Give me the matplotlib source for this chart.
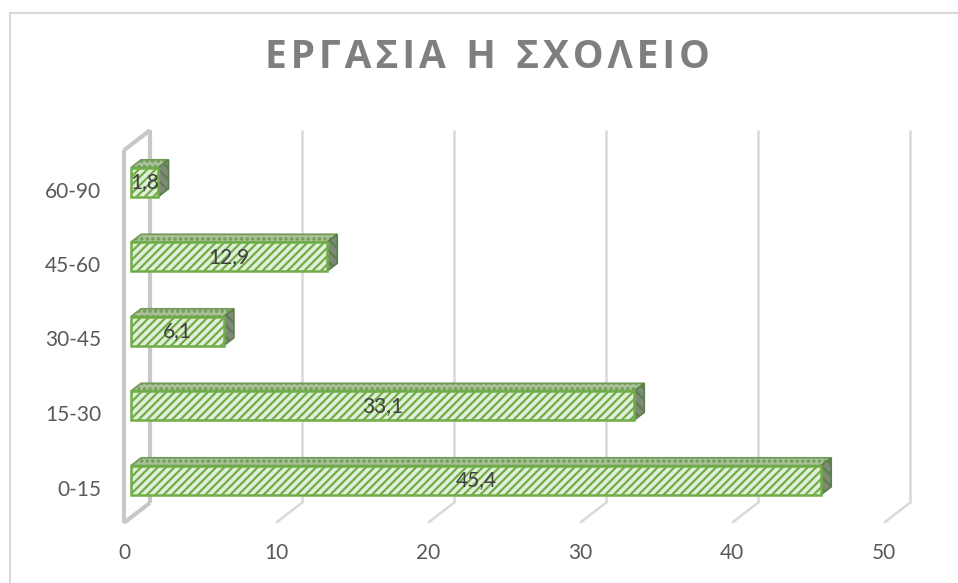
import matplotlib
matplotlib.use("Agg")
import matplotlib.pyplot as plt
from matplotlib.patches import Polygon
from matplotlib.lines import Line2D

# data
categories = ["0-15", "15-30", "30-45", "45-60", "60-90"]
values = [45.4, 33.1, 6.1, 12.9, 1.8]
value_labels = ["45,4", "33,1", "6,1", "12,9", "1,8"]
x_ticks = [0, 10, 20, 30, 40, 50]
title = "ΕΡΓΑΣΙΑ Η ΣΧΟΛΕΙΟ"

W, H = 958, 583
plt.rcParams["hatch.linewidth"] = 1.6
label_font = ["Lato", "Open Sans", "DejaVu Sans"]

fig = plt.figure(figsize=(W / 100, H / 100), dpi=100)
# front plane: x=0 at px 124, x=50 at px 884; y from floor (523) to wall top (150)
ax = fig.add_axes([124 / W, (H - 522.75) / H, 760 / W, 372.5 / H])
ax.set_xlim(0, 50)
ax.set_ylim(-0.5, 4.5)
ax.axis("off")

# depth offset (full depth) in data units
px_x = 760 / 50
px_y = 372.5 / 5
DX, DY = 26 / px_x, 20 / px_y


def P(v, c, d):
    return (v + d * DX, c + d * DY)


def seg(a, b, col, lw):
    ax.add_line(Line2D(*zip(a, b), color=col, lw=lw, zorder=1, clip_on=False,
                       solid_capstyle="butt"))


# back wall grid + floor diagonals
for t in x_ticks:
    col, lw = ("#c8c8c8", 3.0) if t == 0 else ("#d9d9d9", 1.8)
    seg(P(t, -0.5, 1), P(t, 4.5, 1), col, lw)
    seg(P(t, -0.5, 0), P(t, -0.5, 1), col, lw)
# left wall front edge + top
seg(P(0, -0.5, 0), P(0, 4.5, 0), "#c8c8c8", 3.0)
seg(P(0, 4.5, 0), P(0, 4.5, 1), "#c8c8c8", 3.0)

# bars
d0, d1 = 0.27, 0.66
h = 0.39
edge = "#70ad47"
for i, (v, lab) in enumerate(zip(values, value_labels)):
    c = i
    lo, hi = c - h / 2, c + h / 2
    front = [P(0, lo, d0), P(v, lo, d0), P(v, hi, d0), P(0, hi, d0)]
    top = [P(0, hi, d0), P(v, hi, d0), P(v, hi, d1), P(0, hi, d1)]
    side = [P(v, lo, d0), P(v, lo, d1), P(v, hi, d1), P(v, hi, d0)]
    ax.add_patch(Polygon(top, closed=True, facecolor="#a9c197", edgecolor="#6f9a55",
                         hatch="...", lw=1.2, zorder=3, clip_on=False))
    ax.add_patch(Polygon(side, closed=True, facecolor="#7d8a78", edgecolor="#5e7d4c",
                         hatch="\\\\\\", lw=1.2, zorder=3, clip_on=False))
    ax.add_patch(Polygon(front, closed=True, facecolor="#e2efda", edgecolor=edge,
                         hatch="////", lw=1.8, zorder=4, clip_on=False))
    cx, cy = P(v / 2, c, d0)
    ax.text(cx, cy, lab, ha="center", va="center", fontsize=15, color="#404040",
            family=label_font, zorder=5)

# category labels
for i, cat in enumerate(categories):
    ax.annotate(cat, (0, i), xytext=(-23, -4), textcoords="offset pixels",
                ha="right", va="center", fontsize=15, color="#595959", family=label_font)

# value axis labels
for t in x_ticks:
    ax.annotate(str(t), (t, -0.5), xytext=(0, -30), textcoords="offset pixels",
                ha="center", va="center", fontsize=15, color="#595959", family=label_font)

# title with letter spacing
spaced = "\u200a".join(title).replace("\u200a \u200a", "  ")
fig.text(487 / W, 1 - 58 / H, spaced, ha="center", va="center", fontsize=28,
         fontweight="bold", color="#7f7f7f", family=["Open Sans", "DejaVu Sans"])

# chart border
fig.add_artist(Line2D([10 / W, 10 / W], [0, 1 - 13 / H], color="#d9d9d9", lw=1.5))
fig.add_artist(Line2D([10 / W, 1], [1 - 13 / H, 1 - 13 / H], color="#d9d9d9", lw=1.5))

fig.savefig("out.png", dpi=100, facecolor="white")
